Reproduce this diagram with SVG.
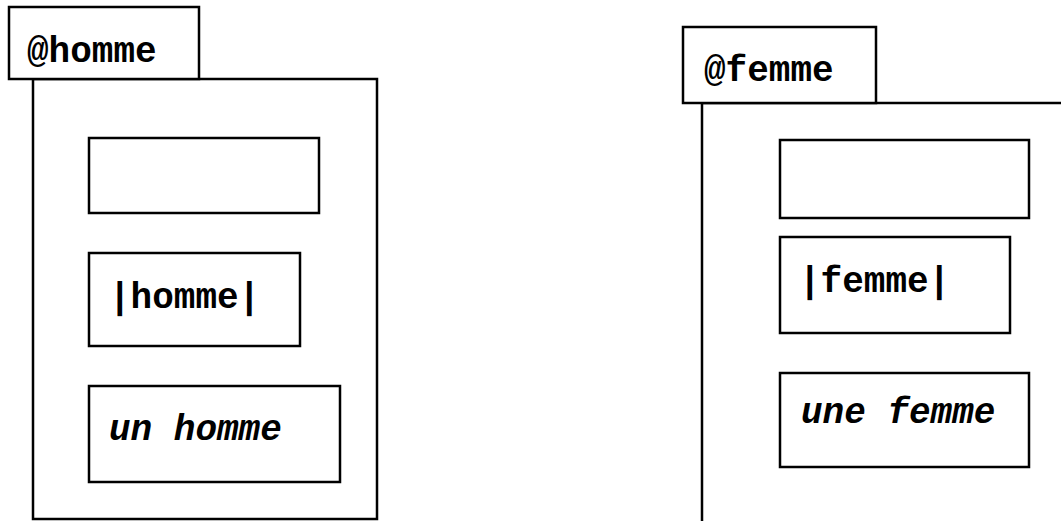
<svg xmlns="http://www.w3.org/2000/svg" width="1061" height="521" viewBox="0 0 1061 521">
  <style>
    .box { fill: #fff; stroke: #000; stroke-width: 2.5; }
    .open { fill: none; stroke: #000; stroke-width: 2.5; }
    .lbl { font-family: "Liberation Mono", "Courier New", monospace; font-weight: bold; font-size: 36px; fill: #000; }
    .it { font-style: italic; }
  </style>
  <rect width="1061" height="521" fill="#fff"/>

  <!-- homme frame -->
  <g id="homme">
    <rect class="box" x="33" y="79" width="344" height="440"/>
    <rect class="box" x="9" y="7" width="190" height="72"/>
    <text class="lbl" x="27" y="62">@homme</text>
    <rect id="homme-empty" class="box" x="89" y="138" width="230" height="75"/>
    <g id="homme-name">
      <rect class="box" x="89" y="253" width="211" height="93"/>
      <text class="lbl" x="109" y="308">|homme|</text>
    </g>
    <g id="homme-phrase">
      <rect class="box" x="89" y="386" width="251" height="96"/>
      <text class="lbl it" x="109" y="440">un homme</text>
    </g>
  </g>

  <!-- femme frame (runs past the right and bottom edges) -->
  <g id="femme">
    <path class="open" d="M1063 103 H702 V523"/>
    <rect class="box" x="683" y="27" width="193" height="76"/>
    <text class="lbl" x="704" y="81">@femme</text>
    <rect id="femme-empty" class="box" x="780" y="140" width="249" height="78"/>
    <g id="femme-name">
      <rect class="box" x="780" y="237" width="230" height="96"/>
      <text class="lbl" x="799" y="292">|femme|</text>
    </g>
    <g id="femme-phrase">
      <rect class="box" x="780" y="373" width="249" height="94"/>
      <text class="lbl it" x="801" y="423">une femme</text>
    </g>
  </g>

  <g id="connectors"/>
</svg>
